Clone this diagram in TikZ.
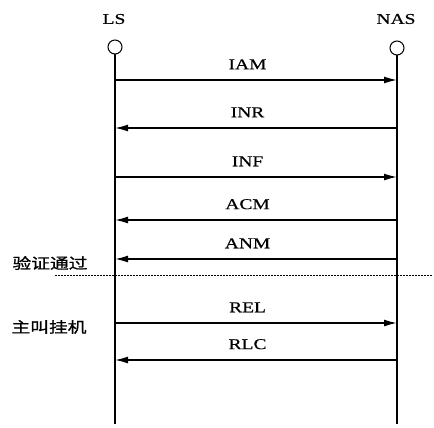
\documentclass[tikz,border=0pt]{standalone}
\usepackage{fontspec}
\setmainfont[FakeStretch=1.3,FakeBold=0.4]{Liberation Serif}
\newfontfamily\cjk[FakeStretch=1.25,FakeBold=1]{Noto Sans CJK SC}
\usetikzlibrary{arrows.meta}

\begin{document}
\begin{tikzpicture}[x=1pt,y=-1pt,
    msg/.style={line width=1.5pt,-{Latex[length=13pt,width=7pt]}},
    lifeline/.style={line width=1.1pt},
    endpoint/.style={draw,circle,line width=1pt,minimum size=14pt,inner sep=0pt},
    lab/.style={font=\fontsize{15}{17}\selectfont,inner sep=0pt},
    cjklab/.style={font=\cjk\fontsize{15}{17}\selectfont,inner sep=0pt}]
    \useasboundingbox (0,0) rectangle (434,428);
    % Teilnehmer:
    \node[lab] (lsname) at (114,19) {LS};
    \node[lab] (nasname) at (396,19) {NAS};
    \node[endpoint] (lscirc) at (115,47) {};
    \node[endpoint] (nascirc) at (397,48) {};
    \coordinate (lsend) at (115,424);
    \coordinate (nasend) at (397,424);
    \draw[lifeline] (lscirc) -- (lsend); % linke Linie
    \draw[lifeline] (nascirc) -- (nasend); % rechte Linie
    % Nachrichten LS -> NAS:
    \foreach \name/\y in {IAM/80, INF/177, REL/323} {
        \coordinate (\name-a) at (115,\y);
        \coordinate (\name-b) at (397,\y);
        \draw[msg] (\name-a) -- (\name-b) node[lab,pos=0.47,above=10pt] {\name};
    }
    % Nachrichten NAS -> LS:
    \foreach \name/\y in {INR/128, ACM/220, ANM/259, RLC/360} {
        \coordinate (\name-a) at (397,\y);
        \coordinate (\name-b) at (115,\y);
        \draw[msg] (\name-a) -- (\name-b) node[lab,pos=0.53,above=10pt] {\name};
    }
    % Trennlinie:
    \coordinate (cutl) at (55,275);
    \coordinate (cutr) at (432,275);
    \draw[line width=0.6pt,dash pattern=on 2pt off 1pt] (cutl) -- (cutr);
    % Beschriftungen links:
    \node[cjklab] (verified) at (50,263) {验证通过};
    \node[cjklab] (hangup) at (49,327) {主叫挂机};
\end{tikzpicture}
\end{document}
